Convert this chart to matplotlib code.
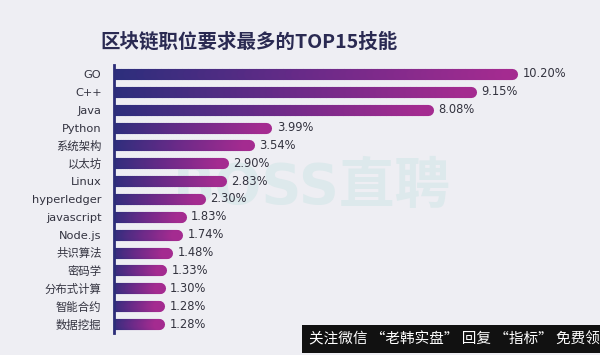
import numpy as np
import matplotlib.pyplot as plt
from matplotlib.collections import LineCollection
from matplotlib.colors import LinearSegmentedColormap

plt.rcParams['font.family'] = ['DejaVu Sans', 'Noto Sans CJK SC']

skills = ['GO', 'C++', 'Java', 'Python', '系统架构', '以太坊', 'Linux', 'hyperledger',
          'javascript', 'Node.js', '共识算法', '密码学', '分布式计算', '智能合约', '数据挖掘']
shares = [10.20, 9.15, 8.08, 3.99, 3.54, 2.90, 2.83, 2.30,
          1.83, 1.74, 1.48, 1.33, 1.30, 1.28, 1.28]
value_labels = ['10.20%', '9.15%', '8.08%', '3.99%', '3.54%', '2.90%', '2.83%', '2.30%',
                '1.83%', '1.74%', '1.48%', '1.33%', '1.30%', '1.28%', '1.28%']

bg = '#eeeef3'
navy = '#2c2d78'
cmap = LinearSegmentedColormap.from_list('bar', ['#2c2e7c', '#6a2a88', '#a42b90'])

fig = plt.figure(figsize=(6, 3.55), dpi=100, facecolor=bg)
ax = fig.add_axes([0.19, 0.062, 0.792, 0.755])
ax.set_facecolor('none')

# faint watermark behind the bars
ax.text(0.52, 0.47, 'BOSS直聘', ha='center', va='center', fontsize=40,
        fontweight='bold', color='#dde9ec', transform=fig.transFigure,
        family=['DejaVu Sans', 'Noto Sans CJK SC'], zorder=0)

y = np.arange(len(skills))
for yi, v, lab in zip(y, shares, value_labels):
    xs = np.linspace(0, v - 0.14, 60)
    segs = [[(xs[i], yi), (xs[i + 1], yi)] for i in range(len(xs) - 1)]
    lc = LineCollection(segs, colors=cmap(np.linspace(0, 1, len(segs))),
                        linewidths=8, capstyle='round', zorder=2)
    ax.add_collection(lc)
    ax.text(v + 0.12, yi, lab, va='center', ha='left', fontsize=8.3,
            color='#33333f', zorder=3)

ax.set_xlim(0, 12)
ax.set_ylim(len(skills) - 0.5, -0.5)
ax.set_yticks(y)
ax.set_yticklabels(skills, fontsize=8.2, color='#333340')
ax.tick_params(axis='y', length=0, pad=9)
ax.set_xticks([])
for s in ['top', 'right', 'bottom']:
    ax.spines[s].set_visible(False)
ax.spines['left'].set_color(navy)
ax.spines['left'].set_linewidth(2)
ax.spines['left'].set_zorder(3)

fig.text(0.167, 0.882, '区块链职位要求最多的TOP15技能', fontsize=14, fontweight='bold',
         color='#2a2a52', ha='left', va='center',
         family=['Noto Sans CJK SC', 'DejaVu Sans'])

# bottom overlay banner
fig.text(0.999, 0.045, '关注微信 “老韩实盘” 回复 “指标” 免费领', fontsize=10.5,
         color='white', ha='right', va='center', family=['Noto Sans CJK SC', 'DejaVu Sans'],
         bbox=dict(boxstyle='square,pad=0.45', fc='#111111', ec='none'))

fig.savefig('out.png', dpi=100, facecolor=bg)
